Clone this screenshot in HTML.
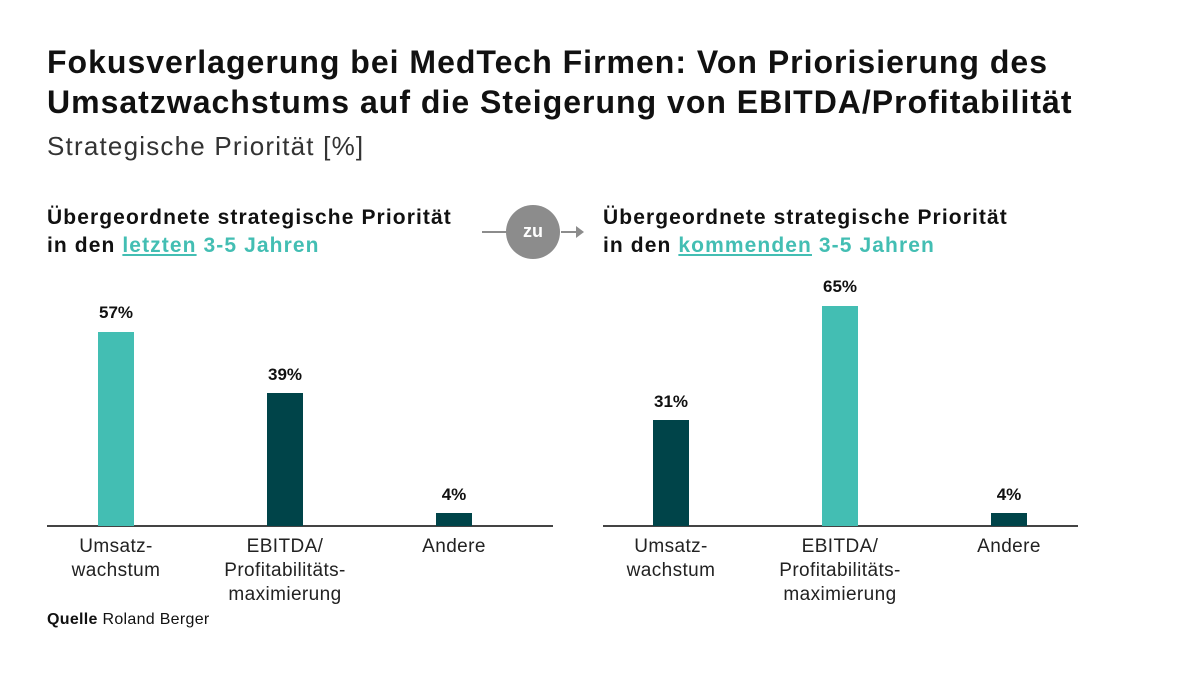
<!DOCTYPE html>
<html><head><meta charset="utf-8"><style>
body{margin:0;width:1200px;height:675px;background:#fff;font-family:"Liberation Sans",sans-serif;color:#111;position:relative;overflow:hidden}
.a{position:absolute;white-space:nowrap}
.t{font-weight:bold;font-size:32px;line-height:40px;left:47px;top:42px;letter-spacing:1px}
.s{font-size:26px;left:47px;top:131px;color:#333;letter-spacing:1.2px}
.h{font-weight:bold;font-size:21px;line-height:28px;letter-spacing:1.1px}
.tl{color:#43beb3}
.u{text-decoration:underline}
.bar{position:absolute;width:36px}
.v{position:absolute;font-weight:bold;font-size:17px;width:80px;text-align:center}
.l{position:absolute;font-size:19px;line-height:24px;width:170px;text-align:center;color:#222;letter-spacing:0.4px}
.ax{position:absolute;height:2px;background:#444;top:525px}
</style></head><body>
<div class="a t">Fokusverlagerung bei MedTech Firmen: Von Priorisierung des<br>Umsatzwachstums auf die Steigerung von EBITDA/Profitabilität</div>
<div class="a s">Strategische Priorität [%]</div>
<div class="a h" style="left:47px;top:204px">Übergeordnete strategische Priorität<br>in den <span class="tl u">letzten</span> <span class="tl">3-5 Jahren</span></div>
<div class="a h" style="left:603px;top:204px">Übergeordnete strategische Priorität<br>in den <span class="tl u">kommenden</span> <span class="tl">3-5 Jahren</span></div>
<div class="a" style="left:482px;top:231px;width:25px;height:2px;background:#8c8c8c"></div>
<div class="a" style="left:506px;top:205px;width:54px;height:54px;border-radius:50%;background:#8c8c8c;color:#fff;font-weight:bold;font-size:18px;text-align:center;line-height:52px">zu</div>
<div class="a" style="left:561px;top:231px;width:18px;height:2px;background:#8c8c8c"></div>
<div class="a" style="left:576px;top:226px;width:0;height:0;border-left:8px solid #8c8c8c;border-top:6px solid transparent;border-bottom:6px solid transparent"></div>

<div class="ax" style="left:47px;width:506px"></div>
<div class="ax" style="left:603px;width:475px"></div>

<div class="bar" style="left:98px;top:332px;height:194px;background:#43beb3"></div>
<div class="bar" style="left:267px;top:393px;height:133px;background:#004449"></div>
<div class="bar" style="left:436px;top:513px;height:13px;background:#004449"></div>
<div class="bar" style="left:653px;top:420px;height:106px;background:#004449"></div>
<div class="bar" style="left:822px;top:306px;height:220px;background:#43beb3"></div>
<div class="bar" style="left:991px;top:513px;height:13px;background:#004449"></div>

<div class="v" style="left:76px;top:303px">57%</div>
<div class="v" style="left:245px;top:365px">39%</div>
<div class="v" style="left:414px;top:485px">4%</div>
<div class="v" style="left:631px;top:392px">31%</div>
<div class="v" style="left:800px;top:277px">65%</div>
<div class="v" style="left:969px;top:485px">4%</div>

<div class="l" style="left:31px;top:535px">Umsatz-<br>wachstum</div>
<div class="l" style="left:200px;top:535px">EBITDA/<br>Profitabilitäts-<br>maximierung</div>
<div class="l" style="left:369px;top:535px">Andere</div>
<div class="l" style="left:586px;top:535px">Umsatz-<br>wachstum</div>
<div class="l" style="left:755px;top:535px">EBITDA/<br>Profitabilitäts-<br>maximierung</div>
<div class="l" style="left:924px;top:535px">Andere</div>

<div class="a" style="left:47px;top:611px;font-size:16px;letter-spacing:0.3px"><b>Quelle</b> Roland Berger</div>
</body></html>
